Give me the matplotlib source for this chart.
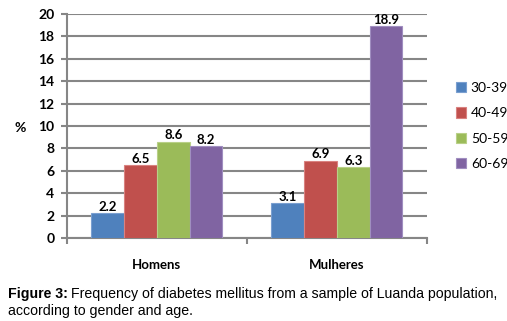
import numpy as np
import matplotlib
matplotlib.use("Agg")
import matplotlib.pyplot as plt

# data
groups = ["Homens", "Mulheres"]
age_bands = ["30-39", "40-49", "50-59", "60-69"]
values = [
    [2.2, 3.1],   # 30-39
    [6.5, 6.9],   # 40-49
    [8.6, 6.3],   # 50-59
    [8.2, 18.9],  # 60-69
]
colors = ["#4F81BD", "#C0504D", "#9BBB59", "#8064A2"]
edges = ["#7a9fd0", "#d98280", "#b9d088", "#a08ec0"]

plt.rcParams['font.family'] = ['Lato', 'DejaVu Sans']

fig = plt.figure(figsize=(5.07, 3.21), dpi=100)
ax = fig.add_axes([0.132, 0.2586, 0.710, 0.698])

x = np.arange(len(groups))
width = 0.182
grid_col = "#868686"

for i, (band, vals) in enumerate(zip(age_bands, values)):
    pos = x + (i - 1.5) * width
    bars = ax.bar(pos, vals, width, color=colors[i], edgecolor=edges[i],
                  linewidth=0.8, label=band, zorder=3)
    for b, v in zip(bars, vals):
        ax.text(b.get_x() + b.get_width() / 2, v + 0.02, f"{v}",
                ha="center", va="bottom", fontsize=9.5, fontweight="bold", zorder=4)

ax.set_xlim(-0.5, 1.5)
ax.set_ylim(0, 20)
ax.set_yticks(np.arange(0, 21, 2))
ax.yaxis.grid(True, color=grid_col, linewidth=1.5, zorder=0)
ax.set_axisbelow(True)

ax.set_xticks([-0.5, 0.5, 1.5])
ax.set_xticklabels([])
ax.set_xticks(x, minor=True)
ax.set_xticklabels(groups, minor=True, fontsize=9.5, fontweight="bold")
ax.tick_params(axis="x", which="minor", length=0, pad=15)
ax.tick_params(axis="x", which="major", length=4, color=grid_col, width=1.5)
ax.tick_params(axis="y", length=4, color=grid_col, width=1.5, labelsize=10, pad=5)
for lab in ax.get_yticklabels():
    lab.set_fontweight("bold")

for s in ["top", "right"]:
    ax.spines[s].set_visible(False)
for s in ["left", "bottom"]:
    ax.spines[s].set_color(grid_col)
    ax.spines[s].set_linewidth(1.5)

fig.text(20 / 507, 1 - 128 / 321, "%", ha="center", va="center",
         fontsize=10, fontweight="bold")

leg = ax.legend(loc="center left", bbox_to_anchor=(1.045, 0.5), frameon=False,
                fontsize=10, handlelength=0.75, handleheight=0.75,
                handletextpad=0.35, labelspacing=0.95)

# caption
fig.text(8 / 507, 1 - 298 / 321, "Figure 3:", ha="left", va="baseline",
         fontsize=10.2, fontweight="bold", family="Liberation Sans")
fig.text(8 / 507 + 0.125, 1 - 298 / 321,
         "Frequency of diabetes mellitus from a sample of Luanda population,",
         ha="left", va="baseline", fontsize=10.2, family="Liberation Sans")
fig.text(8 / 507, 1 - 315 / 321, "according to gender and age.",
         ha="left", va="baseline", fontsize=10.2, family="Liberation Sans")

fig.savefig("out.png", dpi=100)
